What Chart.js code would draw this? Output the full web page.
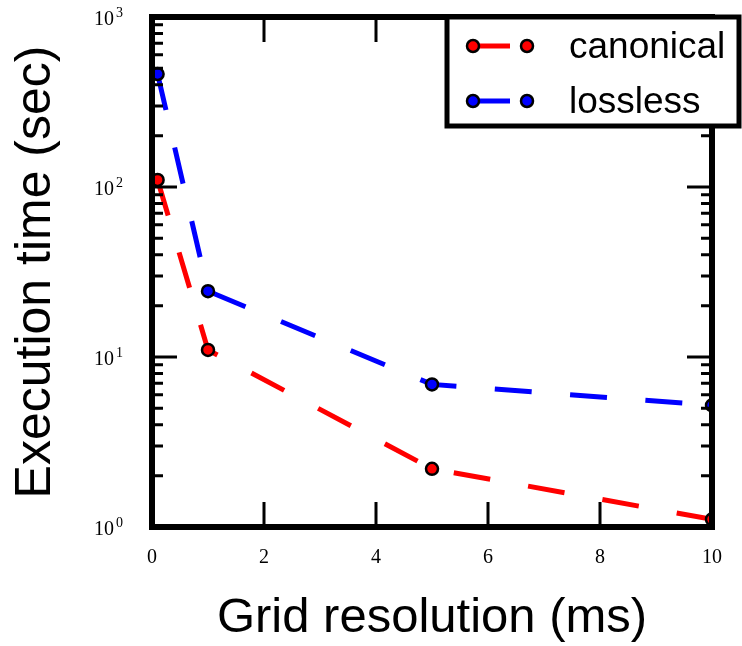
<!DOCTYPE html>
<html>
<head>
<meta charset="utf-8">
<script src="https://cdn.jsdelivr.net/npm/chart.js@4.4.0/dist/chart.umd.min.js"></script>
<style>
  html, body { margin: 0; padding: 0; background: #fff; }
  canvas { display: block; }
</style>
</head>
<body>
<canvas id="grafico" width="742" height="646"></canvas>
<script>
const resolution = [0.1, 1, 5, 10];
const canonical = [110, 11, 2.2, 1.11];
const lossless = [462, 24.4, 6.9, 5.2];
const seriesNames = ["canonical", "lossless"];
const seriesColors = ["#ff0000", "#0000ff"];
const yDecades = [0, 1, 2, 3];
const xMajorTicks = [0, 2, 4, 6, 8, 10];

const DASH = [37, 38.5];

function pontos(valores) {
  return resolution.map((x, i) => ({ x, y: valores[i] }));
}

const eixosPlugin = {
  id: "eixos",
  beforeDraw(chart) {
    const ctx = chart.ctx;
    ctx.save();
    ctx.fillStyle = "#fff";
    ctx.fillRect(0, 0, chart.width, chart.height);
    ctx.restore();
  },
  afterDatasetsDraw(chart) {
    const ctx = chart.ctx;
    const { left, right, top, bottom } = chart.chartArea;
    const xs = chart.scales.x;
    const ys = chart.scales.y;
    ctx.save();
    ctx.strokeStyle = "#000";
    ctx.lineCap = "butt";

    // ticks do eixo log, dos dois lados
    ctx.lineWidth = 3;
    yDecades.forEach((d) => {
      const base = Math.pow(10, d);
      const py = ys.getPixelForValue(base);
      ctx.beginPath();
      ctx.moveTo(left, py); ctx.lineTo(left + 25, py);
      ctx.moveTo(right, py); ctx.lineTo(right - 25, py);
      ctx.stroke();
      if (d === yDecades[yDecades.length - 1]) return;
      for (let m = 2; m <= 9; m++) {
        const p = ys.getPixelForValue(base * m);
        ctx.beginPath();
        ctx.moveTo(left, p); ctx.lineTo(left + 11, p);
        ctx.moveTo(right, p); ctx.lineTo(right - 11, p);
        ctx.stroke();
      }
    });

    xMajorTicks.forEach((v) => {
      const px = xs.getPixelForValue(v);
      ctx.beginPath();
      ctx.moveTo(px, bottom); ctx.lineTo(px, bottom - 25);
      ctx.moveTo(px, top); ctx.lineTo(px, top + 25);
      ctx.stroke();
    });

    // moldura
    ctx.lineWidth = 6;
    ctx.strokeRect(left, top, right - left, bottom - top);

    // rotulos 10^n
    ctx.fillStyle = "#000";
    yDecades.forEach((d) => {
      const py = ys.getPixelForValue(Math.pow(10, d));
      ctx.font = "20px 'Liberation Serif', serif";
      ctx.textAlign = "right";
      ctx.textBaseline = "alphabetic";
      ctx.fillText("10", 114, py + 8);
      ctx.font = "14px 'Liberation Serif', serif";
      ctx.textAlign = "left";
      ctx.fillText(String(d), 116, py);
    });
    ctx.restore();
  },
  afterDraw(chart) {
    const ctx = chart.ctx;
    ctx.save();
    // caixa da legenda
    ctx.fillStyle = "#fff";
    ctx.fillRect(447, 17, 292, 109);
    ctx.strokeStyle = "#000";
    ctx.lineWidth = 5;
    ctx.strokeRect(447, 17, 292, 109);

    const linhas = [46, 101];
    seriesNames.forEach((nome, i) => {
      const y = linhas[i];
      ctx.strokeStyle = seriesColors[i];
      ctx.lineWidth = 5;
      ctx.setLineDash(DASH);
      ctx.beginPath();
      ctx.moveTo(473, y);
      ctx.lineTo(527, y);
      ctx.stroke();
      ctx.setLineDash([]);
      [473, 527].forEach((cx) => {
        ctx.beginPath();
        ctx.arc(cx, y, 6, 0, Math.PI * 2);
        ctx.fillStyle = seriesColors[i];
        ctx.fill();
        ctx.lineWidth = 2.5;
        ctx.strokeStyle = "#000";
        ctx.stroke();
      });
      ctx.fillStyle = "#000";
      ctx.font = "37px 'Liberation Sans', Arial, sans-serif";
      ctx.textAlign = "left";
      ctx.textBaseline = "middle";
      ctx.fillText(nome, 569, y + 2);
    });
    ctx.restore();
  },
};

const config = {
  type: "line",
  data: {
    datasets: [
      {
        label: seriesNames[0],
        data: pontos(canonical),
        borderColor: seriesColors[0],
        backgroundColor: seriesColors[0],
        borderWidth: 5,
        borderDash: DASH,
        pointRadius: 6,
        pointBorderWidth: 2.5,
        pointBorderColor: "#000",
        pointBackgroundColor: seriesColors[0],
        tension: 0,
        clip: 0,
      },
      {
        label: seriesNames[1],
        data: pontos(lossless),
        borderColor: seriesColors[1],
        backgroundColor: seriesColors[1],
        borderWidth: 5,
        borderDash: DASH,
        pointRadius: 6,
        pointBorderWidth: 2.5,
        pointBorderColor: "#000",
        pointBackgroundColor: seriesColors[1],
        tension: 0,
        clip: 0,
      },
    ],
  },
  options: {
    responsive: false,
    animation: false,
    layout: { padding: { top: 17, right: 30, left: 0, bottom: 0 } },
    plugins: {
      legend: { display: false },
      tooltip: { enabled: false },
    },
    scales: {
      x: {
        type: "linear",
        min: 0,
        max: 10,
        afterFit: (s) => { s.height = 119; },
        afterBuildTicks: (s) => { s.ticks = xMajorTicks.map((v) => ({ value: v })); },
        grid: { display: false, drawTicks: false },
        border: { display: false },
        ticks: {
          padding: 19,
          color: "#000",
          font: { family: "'Liberation Serif', serif", size: 20 },
        },
        title: {
          display: true,
          text: "Grid resolution (ms)",
          color: "#000",
          font: { family: "'Liberation Sans', Arial, sans-serif", size: 49, lineHeight: 1 },
          padding: { top: 0, bottom: 3 },
        },
      },
      y: {
        type: "logarithmic",
        min: 1,
        max: 1000,
        afterFit: (s) => { s.width = 152; },
        grid: { display: false, drawTicks: false },
        border: { display: false },
        ticks: { display: false },
        title: {
          display: true,
          text: "Execution time (sec)",
          color: "#000",
          font: { family: "'Liberation Sans', Arial, sans-serif", size: 50, lineHeight: 1 },
          padding: { top: 11, bottom: 0 },
        },
      },
    },
  },
  plugins: [eixosPlugin],
};

new Chart(document.getElementById("grafico"), config);
</script>
</body>
</html>
